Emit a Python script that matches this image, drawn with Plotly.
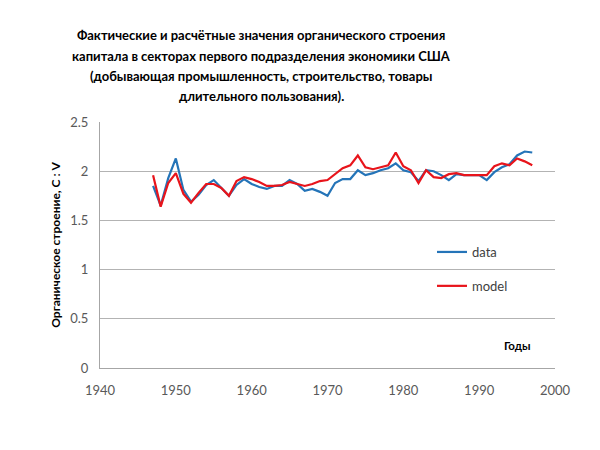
import plotly.graph_objects as go

years = list(range(1947, 1998))
data_vals = [1.85, 1.65, 1.93, 2.13, 1.81, 1.69, 1.76, 1.86, 1.91, 1.83,
             1.75, 1.86, 1.92, 1.87, 1.84, 1.82, 1.85, 1.85, 1.91, 1.87,
             1.80, 1.82, 1.79, 1.75, 1.88, 1.92, 1.92, 2.01, 1.96, 1.98,
             2.01, 2.03, 2.08, 2.01, 1.99, 1.90, 2.01, 2.00, 1.96, 1.91,
             1.97, 1.96, 1.96, 1.96, 1.91, 1.99, 2.04, 2.07, 2.16, 2.20, 2.19]
model_vals = [1.96, 1.64, 1.88, 1.98, 1.77, 1.68, 1.78, 1.87, 1.87, 1.83,
              1.75, 1.90, 1.94, 1.92, 1.89, 1.85, 1.85, 1.86, 1.89, 1.87,
              1.85, 1.87, 1.90, 1.91, 1.97, 2.03, 2.06, 2.16, 2.04, 2.02,
              2.04, 2.06, 2.19, 2.05, 2.01, 1.88, 2.01, 1.94, 1.93, 1.97,
              1.98, 1.96, 1.96, 1.96, 1.96, 2.05, 2.08, 2.06, 2.13, 2.10, 2.06]
x_ticks = [1940, 1950, 1960, 1970, 1980, 1990, 2000]
y_ticks = [0, 0.5, 1, 1.5, 2, 2.5]
y_tick_labels = ["0", "0.5", "1", "1.5", "2", "2.5"]

title_lines = ["Фактические и расчётные значения органического строения",
               "капитала в секторах первого подразделения экономики США",
               "(добывающая промышленность, строительство, товары",
               "длительного пользования)."]

# plot area in page pixels (page has an 8px offset)
L, R, T, B = 92, 53, 114, 90
PW, PH = 600 - L - R, 450 - T - B
OFF = 8


def px(xp):
    return (xp - OFF - L) / PW


def py(yp):
    return (450 - B - (yp - OFF)) / PH


fig = go.Figure()
fig.add_trace(go.Scatter(x=years, y=data_vals, mode="lines", name="data",
                         line=dict(color="#2474b8", width=2.2), legendgroup="a"))
fig.add_trace(go.Scatter(x=years, y=model_vals, mode="lines", name="model",
                         line=dict(color="#e8141b", width=2.2), legendgroup="b"))

fig.update_layout(
    width=600, height=450,
    margin=dict(l=L, r=R, t=T, b=B),
    paper_bgcolor="white", plot_bgcolor="white",
    font=dict(family="Lato, Noto Sans, sans-serif", color="#595959", size=13),
    showlegend=True,
    legend=dict(x=px(432), y=py(237), xanchor="left", yanchor="top",
                bgcolor="rgba(0,0,0,0)", tracegroupgap=14,
                font=dict(size=13, color="#404040"), itemwidth=30),
    xaxis=dict(range=[1940, 2000], tickvals=x_ticks, showgrid=False,
               showline=True, linecolor="#a6a6a6", linewidth=1, zeroline=False,
               ticks="", ticklabelstandoff=10, tickfont=dict(size=13, color="#595959")),
    yaxis=dict(range=[0, 2.5], tickvals=y_ticks, ticktext=y_tick_labels,
               showgrid=True, gridcolor="#b3b3b3", gridwidth=1,
               showline=True, linecolor="#a6a6a6", linewidth=1, zeroline=False,
               ticks="", ticklabelstandoff=8, tickfont=dict(size=13, color="#595959")
               ,
               title=dict(text="<b>Органическое строение, С : V</b>",
                          font=dict(size=12, color="#000000"), standoff=7)),
)

for i, line in enumerate(title_lines):
    fig.add_annotation(text="<b>" + line + "</b>", xref="paper", yref="paper",
                       x=px(261), y=py(35 + 20.5 * i), xanchor="center", yanchor="middle",
                       showarrow=False, align="center",
                       font=dict(size=13, color="#000000", family="Lato, Noto Sans, sans-serif"))
fig.add_annotation(text="<b>Годы</b>", xref="paper", yref="paper",
                   x=px(517), y=py(345), xanchor="center", yanchor="middle",
                   showarrow=False, font=dict(size=11.5, color="#000000"))

fig.write_html("out.html")
